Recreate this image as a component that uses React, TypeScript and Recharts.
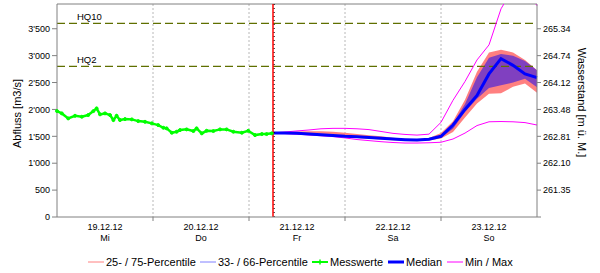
import React from 'react';
import { ComposedChart, Line, Area, XAxis, YAxis, CartesianGrid, ReferenceLine } from 'recharts';

// ---- data ----
const measuredHours = [0, 1.2, 2.8, 4.5, 6.2, 7.8, 9.1, 9.9, 10.75, 12, 13.25, 14.1, 14.9, 15.75, 17, 18.7, 20.3, 22, 23.7, 25.3, 26.6, 27.4, 28.7, 29.9, 30.75, 32.4, 34.1, 34.9, 36.2, 37.4, 39.1, 40.75, 42.4, 44.1, 46.2, 47.8, 49.5, 51.2, 52.4, 53.7];
const messwerte = [1969, 1926, 1833, 1882, 1864, 1895, 1969, 2019, 1908, 1926, 1895, 1802, 1882, 1802, 1820, 1815, 1783, 1770, 1741, 1709, 1659, 1648, 1566, 1585, 1616, 1629, 1598, 1648, 1555, 1603, 1598, 1629, 1629, 1585, 1566, 1603, 1523, 1542, 1542, 1555];

const forecastHours = [54, 57, 60, 63, 66, 69, 72, 75, 78, 81, 84, 87, 90, 93, 96, 99, 102, 105, 108, 111, 114, 117, 120];
const median = [1560, 1560, 1555, 1545, 1530, 1515, 1500, 1490, 1478, 1462, 1448, 1437, 1430, 1445, 1500, 1710, 2000, 2260, 2660, 2945, 2820, 2660, 2590];
const p25 = [1555, 1550, 1540, 1530, 1515, 1500, 1485, 1470, 1455, 1440, 1425, 1415, 1410, 1420, 1460, 1580, 1850, 2110, 2290, 2300, 2420, 2480, 2310];
const p75 = [1565, 1575, 1590, 1595, 1595, 1585, 1565, 1545, 1520, 1500, 1475, 1455, 1445, 1470, 1560, 1780, 2180, 2700, 3060, 3110, 3060, 2920, 2730];
const p33 = [1558, 1555, 1548, 1538, 1523, 1508, 1493, 1480, 1467, 1452, 1438, 1428, 1422, 1432, 1480, 1640, 1950, 2200, 2400, 2450, 2500, 2570, 2410];
const p66 = [1562, 1565, 1565, 1555, 1540, 1525, 1510, 1500, 1488, 1472, 1458, 1447, 1440, 1455, 1520, 1740, 2100, 2600, 2960, 3030, 3000, 2900, 2730];
const minValues = [1555, 1550, 1540, 1525, 1510, 1495, 1470, 1440, 1420, 1400, 1385, 1375, 1375, 1380, 1390, 1450, 1560, 1700, 1770, 1775, 1770, 1755, 1710];
const maxValues = [1565, 1580, 1600, 1618, 1640, 1648, 1648, 1640, 1625, 1590, 1555, 1535, 1523, 1540, 1760, 2170, 2520, 2920, 3200, 3870, 4250, 4250, 3930];

const dayDates = ['19.12.12', '20.12.12', '21.12.12', '22.12.12', '23.12.12'];
const dayNames = ['Mi', 'Do', 'Fr', 'Sa', 'So'];
const leftTicks = [0, 500, 1000, 1500, 2000, 2500, 3000, 3500];
const rightTickValues = [0, 500, 1000, 1500, 2000, 2500, 3000, 3500];
const rightTickLabels = ['', '261.35', '262.10', '262.81', '263.48', '264.12', '264.74', '265.34'];
const xTicks = [0, 12, 24, 36, 48, 60, 72, 84, 96, 108, 120];
const dayBoundaries = [24, 48, 72, 96];
const nowHour = 54;
const hq10 = 3600;
const hq2 = 2800;
const Y_MAX = 3960;

const rows: any[] = [];
measuredHours.forEach((h, i) => rows.push({ h, mess: messwerte[i] }));
forecastHours.forEach((h, i) =>
  rows.push({
    h,
    med: median[i],
    band1: [p25[i], p75[i]],
    band2: [p33[i], p66[i]],
    mn: minValues[i],
    mx: maxValues[i],
  })
);

const FONT = '"Liberation Sans", Arial, sans-serif';
const AXIS = '#808080';

const fmtThousands = (v: number) => {
  const s = String(Math.round(v));
  return s.replace(/\B(?=(\d{3})+(?!\d))/g, "'");
};

const XTick = (props: any) => {
  const { x, y, payload } = props;
  const v = payload.value;
  if (v % 24 === 0) {
    if (v === 0 || v === 120) return <g />;
    return <line x1={x} x2={x} y1={y} y2={y + 4} stroke={AXIS} />;
  }
  const idx = Math.floor(v / 24);
  return (
    <g>
      <text x={x} y={y + 13} textAnchor="middle" fontSize={9} fontFamily={FONT} fill="#000">
        {dayDates[idx]}
      </text>
      <text x={x} y={y + 24} textAnchor="middle" fontSize={9} fontFamily={FONT} fill="#000">
        {dayNames[idx]}
      </text>
    </g>
  );
};

const hqLabel = (text: string) => (props: any) => {
  const vb = props.viewBox;
  return (
    <text x={vb.x + 20} y={vb.y - 3} fontSize={9.5} fontFamily={FONT} fill="#000">
      {text}
    </text>
  );
};

const legendItems = [
  { label: '25- / 75-Percentile', color: '#ff8080', width: 1, x: 88 },
  { label: '33- / 66-Percentile', color: '#8080ff', width: 1, x: 200 },
  { label: 'Messwerte', color: '#00ff00', width: 2, x: 312, marker: true },
  { label: 'Median', color: '#0000ff', width: 3, x: 388 },
  { label: 'Min / Max', color: '#ff00ff', width: 1, x: 447 },
];

export default function App() {
  return (
    <div style={{ position: 'absolute', left: 0, top: 0, width: 600, height: 273, background: '#fff' }}>
      <ComposedChart width={600} height={273} data={rows} margin={{ top: 4, right: 0, bottom: 0, left: 0 }}>
        <CartesianGrid
          stroke="#b8b8b8"
          strokeDasharray="2 2"
          horizontalValues={[500, 1000, 1500, 2000, 2500, 3000, 3500]}
          verticalValues={dayBoundaries}
        />
        <XAxis
          dataKey="h"
          type="number"
          domain={[0, 120]}
          ticks={xTicks}
          interval={0}
          height={56}
          stroke={AXIS}
          tickLine={false}
          tickSize={0}
          tickMargin={0}
          tick={<XTick />}
        />
        <YAxis
          yAxisId="left"
          type="number"
          domain={[0, Y_MAX]}
          allowDataOverflow
          ticks={leftTicks}
          interval={0}
          width={57}
          stroke={AXIS}
          tickSize={5}
          tickMargin={2}
          tick={{ fontSize: 9, fontFamily: FONT, fill: '#000' }}
          tickFormatter={fmtThousands}
          label={{
            content: (p: any) => {
              const vb = p.viewBox;
              const cx = vb.x + 17;
              const cy = vb.y + vb.height / 2 + 3;
              return (
                <text x={cx} y={cy} transform={`rotate(-90 ${cx} ${cy})`} textAnchor="middle" dominantBaseline="central" fontSize={11} fontFamily={FONT} fill="#000">
                  Abfluss [m3/s]
                </text>
              );
            },
          }}
        />
        <YAxis
          yAxisId="right"
          orientation="right"
          type="number"
          domain={[0, Y_MAX]}
          allowDataOverflow
          ticks={rightTickValues}
          interval={0}
          width={63}
          stroke={AXIS}
          tickSize={4}
          tickMargin={2}
          tick={{ fontSize: 9, fontFamily: FONT, fill: '#000' }}
          tickFormatter={(v: number) => rightTickLabels[rightTickValues.indexOf(v)]}
          label={{
            content: (p: any) => {
              const vb = p.viewBox;
              const cx = vb.x + 45;
              const cy = vb.y + vb.height / 2 - 8;
              return (
                <text x={cx} y={cy} transform={`rotate(90 ${cx} ${cy})`} textAnchor="middle" dominantBaseline="central" fontSize={11} fontFamily={FONT} fill="#000">
                  Wasserstand [m ü. M.]
                </text>
              );
            },
          }}
        />
        <ReferenceLine yAxisId="left" y={Y_MAX} stroke={AXIS} />
        <ReferenceLine yAxisId="left" y={hq10} stroke="#5f6f00" strokeDasharray="8 4" strokeWidth={1.2} label={hqLabel('HQ10')} />
        <ReferenceLine yAxisId="left" y={hq2} stroke="#5f6f00" strokeDasharray="8 4" strokeWidth={1.2} label={hqLabel('HQ2')} />
        <Area yAxisId="left" dataKey="band1" stroke="none" fill="#ff8080" fillOpacity={1} isAnimationActive={false} connectNulls={false} />
        <Area yAxisId="left" dataKey="band2" stroke="none" fill="#8040c0" fillOpacity={1} isAnimationActive={false} connectNulls={false} />
        <Line yAxisId="left" dataKey="mx" stroke="#ff00ff" strokeWidth={1} dot={false} isAnimationActive={false} />
        <Line yAxisId="left" dataKey="mn" stroke="#ff00ff" strokeWidth={1} dot={false} isAnimationActive={false} />
        <Line yAxisId="left" dataKey="med" stroke="#0000ff" strokeWidth={3} dot={false} isAnimationActive={false} />
        <Line
          yAxisId="left"
          dataKey="mess"
          stroke="#00ff00"
          strokeWidth={2.5}
          dot={{ r: 1.5, fill: '#00ff00', stroke: '#00ff00', strokeWidth: 1 }}
          isAnimationActive={false}
        />
        <ReferenceLine yAxisId="left" x={nowHour} stroke="#ff0000" strokeWidth={1.5} />
        <ReferenceLine yAxisId="left" x={nowHour + 0.3} stroke="#000" strokeWidth={1} strokeDasharray="1 3" />
      </ComposedChart>
      {legendItems.map((it) => (
        <div key={it.label} style={{ position: 'absolute', left: it.x, top: 255, height: 14, display: 'flex', alignItems: 'center', fontFamily: FONT, fontSize: 11, color: '#000', whiteSpace: 'nowrap' }}>
          <svg width={17} height={14} style={{ display: 'block' }}>
            <line x1={0} x2={16} y1={7} y2={7} stroke={it.color} strokeWidth={it.width} />
            {it.marker ? (
              <g>
                <line x1={8} x2={8} y1={4.5} y2={9.5} stroke={it.color} strokeWidth={1.5} />
              </g>
            ) : null}
          </svg>
          <span style={{ marginLeft: 1 }}>{it.label}</span>
        </div>
      ))}
    </div>
  );
}
